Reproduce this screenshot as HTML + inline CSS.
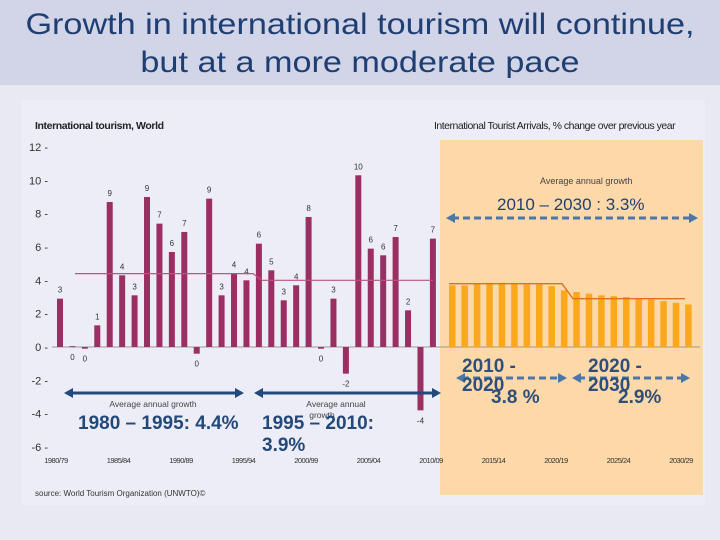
<!DOCTYPE html>
<html><head><meta charset="utf-8">
<style>
body{margin:0;width:720px;height:540px;overflow:hidden;background:#e9e9f4;font-family:"Liberation Sans",sans-serif;}
#title{position:absolute;left:0;top:0;width:720px;height:85px;background:#d2d5e8;}
#title div{position:absolute;left:0;width:720px;text-align:center;color:#1f3f73;font-size:30px;line-height:30px;transform:scaleX(1.14);transform-origin:360px 0;}
svg{position:absolute;left:0;top:0;}
</style></head><body>
<div id="title"><div style="top:10px">Growth in international tourism will continue,</div><div style="top:48px">but at a more moderate pace</div></div>
<svg id="c" width="720" height="540" style="top:0"></svg>
<script>
const histValues=[2.9,0.05,-0.1,1.3,8.7,4.3,3.1,9.0,7.4,5.7,6.9,-0.4,8.9,3.1,4.4,4.0,6.2,4.6,2.8,3.7,7.8,-0.1,2.9,-1.6,10.3,5.9,5.5,6.6,2.2,-3.8,6.5];
const histLabels=["3","0","0","1","9","4","3","9","7","6","7","0","9","3","4","4","6","5","3","4","8","0","3","-2","10","6","6","7","2","-4","7"];
const projValues=[3.7,3.7,3.8,3.85,3.85,3.8,3.75,3.75,3.65,3.4,3.3,3.2,3.1,3.05,3.0,2.9,2.85,2.75,2.65,2.55];
const yTicks=[12,10,8,6,4,2,0,-2,-4,-6];
const xTickLabels=["1980/79","1985/84","1990/89","1995/94","2000/99","2005/04","2010/09","2015/14","2020/19","2025/24","2030/29"];
const avgHist=[4.4,4.0];
const avgProj=[3.8,2.9];
const NS="http://www.w3.org/2000/svg";
const svg=document.getElementById('c');
function el(t,a,txt){const e=document.createElementNS(NS,t);for(const k in a)e.setAttribute(k,a[k]);if(txt!==undefined)e.textContent=txt;svg.appendChild(e);return e;}
const y=v=>347-v*16.67;
const xH=i=>60+i*12.43;
const xP=i=>452+i*12.43;
let r=el('rect',{x:22,y:100,width:683,height:405,fill:'#ededf7'});

r=el('rect',{x:440,y:140,width:263,height:355,fill:'#fdd8a8'});

let t=el('text',{x:35,y:129,'font-size':10.5,'font-weight':'bold',fill:'#222','letter-spacing':'-0.4'},'International tourism, World');

t=el('text',{x:434,y:129,'font-size':10.5,fill:'#222','letter-spacing':'-0.5'},'International Tourist Arrivals, % change over previous year');

yTicks.forEach(v=>{const e=el('text',{x:48,y:y(v)+4,'font-size':11,fill:'#333','text-anchor':'end'},String(v)+' -');
});
let ax=el('line',{x1:52,y1:y(0),x2:700,y2:y(0),stroke:'#999','stroke-width':1});

xTickLabels.forEach((s,i)=>{const e=el('text',{x:56+i*62.5,y:463,'font-size':7.5,fill:'#333','text-anchor':'middle','letter-spacing':'-0.5'},s);
});
histValues.forEach((v,i)=>{const x=xH(i);const top=Math.min(y(v),y(0));const h=Math.max(Math.abs(y(v)-y(0)),1);
const b=el('rect',{x:x-3,y:top,width:6,height:h,fill:'#9b2e63'});

const ly=v>=0.5?y(v)-6:y(Math.min(v,0))+13;
const l=el('text',{x:x,y:ly,'font-size':8,fill:'#333','text-anchor':'middle'},histLabels[i]);
});
projValues.forEach((v,i)=>{const b=el('rect',{x:xP(i)-3,y:y(v),width:6.5,height:y(0)-y(v),fill:'#fba81c'});
});
let p=el('polyline',{points:`75,${y(avgHist[0])} 253,${y(avgHist[0])} 262,${y(avgHist[1])} 433,${y(avgHist[1])}`,fill:'none',stroke:'#b9557f','stroke-width':1.2});

p=el('polyline',{points:`449,${y(avgProj[0])} 562,${y(avgProj[0])} 573,${y(avgProj[1])} 685,${y(avgProj[1])}`,fill:'none',stroke:'#e0701e','stroke-width':1.4});

function arrow(x1,x2,yy,dash,col,name){const a=el('line',{x1:x1+6,y1:yy,x2:x2-6,y2:yy,stroke:col,'stroke-width':3,'stroke-dasharray':dash});

el('polygon',{points:`${x1},${yy} ${x1+9},${yy-5} ${x1+9},${yy+5}`,fill:col});
el('polygon',{points:`${x2},${yy} ${x2-9},${yy-5} ${x2-9},${yy+5}`,fill:col});}
arrow(64,244,393,'none','#22497a','arrow-1980-1995');
arrow(254,441,393,'none','#22497a','arrow-1995-2010');
arrow(456,567,378,'7,4','#4a77a8','arrow-2010-2020');
arrow(572,690,378,'7,4','#4a77a8','arrow-2020-2030');
function txt(x,yy,s,fs,w,col,anchor,name){const e=el('text',{x:x,y:yy,'font-size':fs,'font-weight':w,fill:col,'text-anchor':anchor||'start'},s);
}
txt(540,184,'Average annual growth',9,'normal','#444','start','annotation-label');
txt(497,210,'2010 – 2030 : 3.3%',17,'normal','#1f3f73','start','annotation-2010-2030');
arrow(446,698,218,'7,4','#4a77a8','arrow-2010-2030');
txt(153,407,'Average annual growth',8.5,'normal','#444','middle','annotation-label');
txt(336,407,'Average annual',8.5,'normal','#444','middle','annotation-label');
txt(322,418,'growth',8.5,'normal','#444','middle','annotation-label');
txt(78,429,'1980 – 1995: 4.4%',19,'bold','#22497a','start','annotation-1980-1995');
txt(262,429,'1995 – 2010:',19,'bold','#22497a','start','annotation-1995-2010');
txt(262,451,'3.9%',19,'bold','#22497a','start','annotation-1995-2010-value');
txt(462,372,'2010 -',19,'bold','#2f4f7a','start','annotation-2010-2020');
txt(462,391,'2020',19,'bold','#2f4f7a','start','annotation-2010-2020');
txt(491,403,'3.8 %',19,'bold','#2f4f7a','start','annotation-2010-2020-value');
txt(588,372,'2020 -',19,'bold','#2f4f7a','start','annotation-2020-2030');
txt(588,391,'2030',19,'bold','#2f4f7a','start','annotation-2020-2030');
txt(618,403,'2.9%',19,'bold','#2f4f7a','start','annotation-2020-2030-value');
txt(35,496,'source: World Tourism Organization (UNWTO)©',8,'normal','#333','start','source-note');
</script>
</body></html>
